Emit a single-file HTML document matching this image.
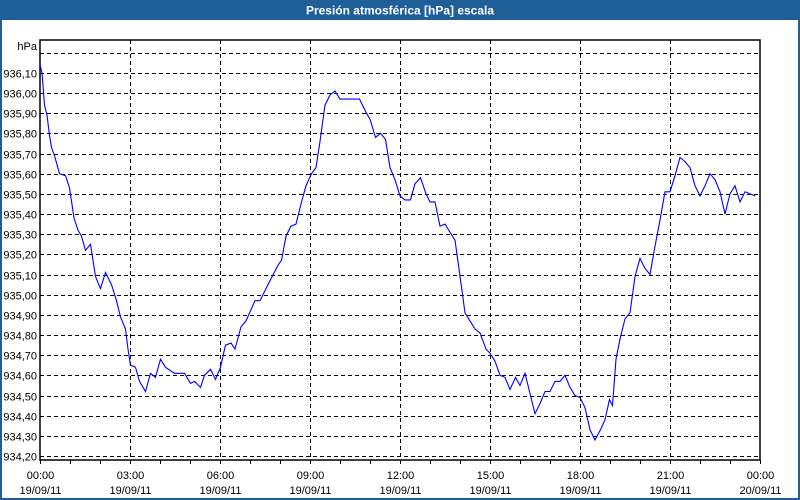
<!DOCTYPE html>
<html><head><meta charset="utf-8"><style>
html,body{margin:0;padding:0;background:#fff}
#wrap{position:relative;width:800px;height:500px;overflow:hidden;background:#fff}
svg text{font-family:"Liberation Sans",sans-serif;font-size:11px;fill:#000}
</style></head><body>
<div id="wrap">
<svg id="chart" width="800" height="500">
  <rect x="0" y="0" width="800" height="500" fill="#fff"/>
  <rect x="1" y="1" width="798" height="498" fill="none" stroke="#1e5f98" stroke-width="2"/>
  <rect x="0" y="0" width="800" height="20" fill="#1e5f98"/>
  <text x="400" y="14.5" text-anchor="middle" style="font-weight:bold;font-size:12px;fill:#fff">Presión atmosférica [hPa] escala</text>
  <text x="37" y="50" text-anchor="end">hPa</text>
  <g id="grid"></g>
  <g id="axes"></g>
  <g id="series"></g>
</svg>
</div>
<script>
const timesMin = [0,4,9,14,19,23,29,39,51,59,68,76,83,91,101,111,121,131,143,153,161,171,176,181,191,199,211,221,231,241,251,269,289,301,309,321,329,341,351,361,371,382,390,402,412,430,440,460,477,483,492,502,512,522,532,543,552,560,570,580,590,600,617,639,653,660,671,681,691,700,710,720,730,741,750,761,772,780,790,800,810,820,830,839,850,860,870,880,892,900,910,920,930,940,951,960,970,980,990,1000,1010,1020,1030,1040,1050,1060,1070,1080,1090,1100,1110,1121,1130,1139,1145,1152,1160,1170,1180,1190,1200,1210,1220,1230,1240,1250,1260,1270,1280,1290,1300,1310,1320,1330,1340,1350,1360,1370,1380,1390,1400,1410,1430];
const pressure = [936.14,936.10,935.94,935.89,935.79,935.73,935.69,935.60,935.59,935.53,935.38,935.32,935.29,935.22,935.25,935.09,935.03,935.11,935.05,934.97,934.89,934.83,934.73,934.65,934.64,934.57,934.52,934.61,934.59,934.68,934.64,934.61,934.61,934.56,934.57,934.54,934.60,934.63,934.58,934.64,934.75,934.76,934.73,934.84,934.87,934.97,934.97,935.07,935.15,935.17,935.29,935.34,935.35,935.45,935.54,935.60,935.63,935.76,935.94,935.99,936.01,935.97,935.97,935.97,935.90,935.87,935.78,935.80,935.77,935.63,935.57,935.49,935.47,935.47,935.55,935.58,935.50,935.46,935.46,935.34,935.35,935.31,935.27,935.11,934.91,934.87,934.83,934.81,934.73,934.71,934.67,934.60,934.59,934.53,934.59,934.55,934.61,934.51,934.41,934.46,934.52,934.52,934.57,934.57,934.60,934.54,934.50,934.49,934.44,934.33,934.28,934.33,934.38,934.48,934.45,934.68,934.78,934.88,934.91,935.09,935.18,935.13,935.10,935.24,935.37,935.51,935.51,935.59,935.68,935.66,935.63,935.54,935.49,935.54,935.60,935.57,935.51,935.40,935.50,935.54,935.46,935.51,935.49,935.52];
const yTicks = [934.2,934.3,934.4,934.5,934.6,934.7,934.8,934.9,935.0,935.1,935.2,935.3,935.4,935.5,935.6,935.7,935.8,935.9,936.0,936.1,936.2];
const yTickLabels = ["934,20","934,30","934,40","934,50","934,60","934,70","934,80","934,90","935,00","935,10","935,20","935,30","935,40","935,50","935,60","935,70","935,80","935,90","936,00","936,10",""];
const xTicksHour = [0,3,6,9,12,15,18,21,24];
const xTimeLabels = ["00:00","03:00","06:00","09:00","12:00","15:00","18:00","21:00","00:00"];
const xDateLabels = ["19/09/11","19/09/11","19/09/11","19/09/11","19/09/11","19/09/11","19/09/11","19/09/11","20/09/11"];

const NS="http://www.w3.org/2000/svg";
const L=40,R=760,T=40,B=460;
function xScale(min){return L+(min/1440)*(R-L);}
function yScale(v){return 93+(936.0-v)*201.67;}
function mk(tag,attrs,parent){const e=document.createElementNS(NS,tag);for(const k in attrs)e.setAttribute(k,attrs[k]);parent.appendChild(e);return e;}
const grid=document.getElementById('grid'),axes=document.getElementById('axes'),series=document.getElementById('series');

yTicks.forEach((v,i)=>{
  const y=Math.round(yScale(v))+0.5;
  const ln=mk('line',{x1:L,x2:R,y1:y,y2:y,stroke:'#000','stroke-width':1,'stroke-dasharray':'4,3'},grid);
  
  
  if(yTickLabels[i]){
    const t=mk('text',{x:37,y:y+4,'text-anchor':'end'},axes);
    t.textContent=yTickLabels[i];
    
    
  }
});
xTicksHour.forEach((h,i)=>{
  const x=Math.round(xScale(h*60))+0.5;
  if(h>0&&h<24){
    const ln=mk('line',{x1:x,x2:x,y1:T,y2:B,stroke:'#000','stroke-width':1,'stroke-dasharray':'4,3'},grid);
    
    
  }
  const t1=mk('text',{x:x,y:479,'text-anchor':'middle'},axes);
  t1.textContent=xTimeLabels[i];
  
  
  const t2=mk('text',{x:x,y:494,'text-anchor':'middle'},axes);
  t2.textContent=xDateLabels[i];
  
  
});
for(let h=0;h<=24;h++){
  const x=Math.round(xScale(h*60))+0.5;
  const tk=mk('line',{x1:x,x2:x,y1:B,y2:B+4,stroke:'#000','stroke-width':1},axes);
  
  
}
const frame=mk('rect',{x:L,y:T,width:R-L,height:B-T,fill:'none',stroke:'#000','stroke-width':1.5},axes);



const pts=timesMin.map((m,i)=>xScale(m).toFixed(1)+','+yScale(pressure[i]).toFixed(1)).join(' ');
const line=mk('polyline',{points:pts,fill:'none',stroke:'#0000ff','stroke-width':1.1},series);


</script>
</body></html>
